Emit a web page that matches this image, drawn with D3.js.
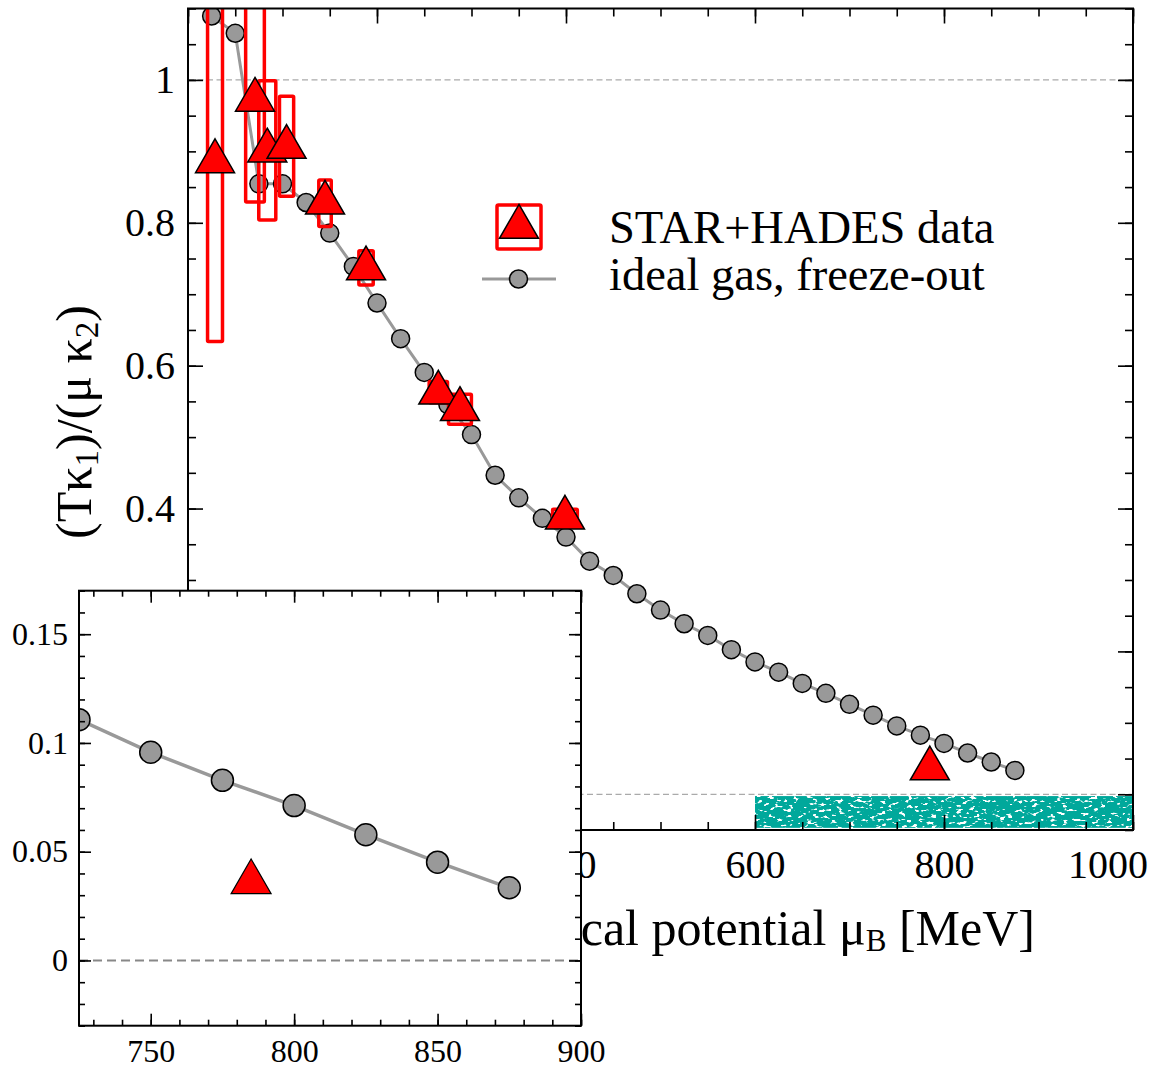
<!DOCTYPE html>
<html><head><meta charset="utf-8">
<script src="https://cdn.jsdelivr.net/npm/d3@7"></script>
<style>
body{margin:0;background:#fff}
svg{display:block}
text{font-family:"Liberation Serif","Times New Roman",serif;fill:#000}
</style>
</head><body>
<svg id="c" width="1150" height="1069"></svg>
<script>
// ---------------- data ----------------
// ideal gas, freeze-out (mu_B in MeV, ratio)
const muIdeal = [25,50,75,100,125,150,175,200,225,250,275,300,325,350,375,400,425,450,475,500,525,550,575,600,625,650,675,700,725,750,775,800,825,850,875];
const ratioIdeal = [1.0895,1.0653,0.8545,0.8545,0.8284,0.7856,0.7389,0.6877,0.6378,0.5906,0.5455,0.5035,0.4466,0.4150,0.3863,0.3601,0.3263,0.3063,0.2807,0.2578,0.2387,0.2224,0.2024,0.1853,0.1710,0.1552,0.1413,0.1259,0.1107,0.0957,0.0828,0.0712,0.0578,0.0452,0.0334];
// STAR+HADES data
const muData = [28.6,70.9,83.9,104.3,145.0,188.4,264.9,287.8,398.9,785.0];
const ratioData = [0.886,0.972,0.901,0.906,0.828,0.736,0.562,0.539,0.387,0.036];
const sysLow  = [0.634,0.829,0.804,0.837,0.795,0.713,0.548,0.518,0.375,null];
const sysHigh = [1.140,1.115,0.999,0.977,0.860,0.761,0.578,0.560,0.399,null];
const sysHalfWidthMu = [7.9,9.9,9.0,7.5,6.6,7.6,9.7,12.1,13.1,0];
// teal region
const bandMu = [600,1005];
const bandRatio = [-0.047,-0.0025];
// axes
const mainXTicks = [0,200,400,600,800,1000];
const mainXTickLabels = ["0","200","400","600","800","1000"];
const mainYTicks = [0,0.2,0.4,0.6,0.8,1];
const mainYTickLabels = ["0","0.2","0.4","0.6","0.8","1"];
const insetXTicks = [750,800,850,900];
const insetXTickLabels = ["750","800","850","900"];
const insetYTicks = [0,0.05,0.1,0.15];
const insetYTickLabels = ["0","0.05","0.1","0.15"];
const refLines = [0,1];
const legendLabels = ["STAR+HADES data","ideal gas, freeze-out"];

// ---------------- drawing ----------------
const svg = d3.select("#c");
const FONT = "Liberation Serif, Times New Roman, serif";
const GRAY = "#999999";
const RED = "#ff0000";

function triPath(s){
  const h1 = s/Math.sqrt(3), h2 = s/(2*Math.sqrt(3));
  return `M0,${-h1}L${s/2},${h2}L${-s/2},${h2}Z`;
}

const X0=188, X1=1133, Y0=8.5, Y1=830;
const x = d3.scaleLinear().domain([0,1000]).range([X0,X1]);
const y = d3.scaleLinear().domain([-0.05,1.1]).range([Y1,Y0]);

const defs = svg.append("defs");
defs.append("clipPath").attr("id","clipMain").append("rect")
  .attr("x",X0).attr("y",Y0).attr("width",X1-X0).attr("height",Y1-Y0);
// sparse speckle texture for the teal region
const f = defs.append("filter").attr("id","speck")
  .attr("x",0).attr("y",0).attr("width","100%").attr("height","100%");
f.append("feTurbulence").attr("type","fractalNoise").attr("baseFrequency","0.16 0.32")
  .attr("numOctaves",2).attr("seed",7).attr("result","n");
f.append("feColorMatrix").attr("in","n").attr("type","matrix")
  .attr("values","0 0 0 0 0  0 0 0 0 0  0 0 0 0 0  0 0 0 -12 8.2").attr("result","m");
f.append("feComposite").attr("in","SourceGraphic").attr("in2","m").attr("operator","in");

const gMain = svg.append("g").attr("clip-path","url(#clipMain)");

// reference dashed lines
gMain.selectAll("line.ref").data(refLines).join("line")
  .attr("x1",X0).attr("x2",X1).attr("y1",d=>y(d)).attr("y2",d=>y(d))
  .attr("stroke","#aaaaaa").attr("stroke-width",1.3).attr("stroke-dasharray","6,3.5");

// teal band
gMain.append("rect")
  .attr("x",x(bandMu[0])).attr("width",x(bandMu[1])-x(bandMu[0]))
  .attr("y",y(bandRatio[1])).attr("height",y(bandRatio[0])-y(bandRatio[1]))
  .attr("fill","#04a89b").attr("filter","url(#speck)");

const idealPts = muIdeal.map((m,i)=>[m,ratioIdeal[i]]);
const dataPts = muData.map((m,i)=>({mu:m,r:ratioData[i],lo:sysLow[i],hi:sysHigh[i],hw:sysHalfWidthMu[i]}));

gMain.append("path").datum(idealPts)
  .attr("d",d3.line().x(d=>x(d[0])).y(d=>y(d[1])))
  .attr("fill","none").attr("stroke",GRAY).attr("stroke-width",3);
gMain.selectAll("circle.ideal").data(idealPts).join("circle")
  .attr("cx",d=>x(d[0])).attr("cy",d=>y(d[1])).attr("r",9)
  .attr("fill",GRAY).attr("stroke","#000").attr("stroke-width",1.5);

gMain.selectAll("rect.sys").data(dataPts.filter(d=>d.lo!==null)).join("rect")
  .attr("x",d=>x(d.mu-d.hw)).attr("width",d=>x(d.mu+d.hw)-x(d.mu-d.hw))
  .attr("y",d=>y(d.hi)).attr("height",d=>y(d.lo)-y(d.hi))
  .attr("fill","none").attr("stroke",RED).attr("stroke-width",3.5).attr("rx",1);

gMain.selectAll("path.tri").data(dataPts).join("path")
  .attr("transform",d=>`translate(${x(d.mu)},${y(d.r)})`)
  .attr("d",triPath(39)).attr("fill",RED).attr("stroke","#000").attr("stroke-width",1.5);

// axes
function styleAxis(g,fs){
  g.select(".domain").remove();
  g.attr("font-size",fs).attr("font-family",FONT);
  g.selectAll("line").attr("stroke","#000").attr("stroke-width",1.6);
  g.selectAll("text").attr("fill","#000");
}
function axes(xs, ys, xT, xL, yT, yL, xMinor, yMinor, L, l, fs, padX, padY){
  const [a0,a1] = xs.range(), [b1,b0] = ys.range();
  const g = svg.append("g");
  g.append("g").attr("transform",`translate(0,${b1})`)
    .call(d3.axisBottom(xs).tickValues(xT).tickFormat((d,i)=>xL[i]).tickSize(-L).tickPadding(padX)).call(s=>styleAxis(s,fs));
  g.append("g").attr("transform",`translate(0,${b1})`)
    .call(d3.axisBottom(xs).tickValues(xMinor).tickFormat("").tickSize(-l)).call(s=>styleAxis(s,fs));
  g.append("g").attr("transform",`translate(0,${b0})`)
    .call(d3.axisTop(xs).tickValues(xT).tickFormat("").tickSize(-L)).call(s=>styleAxis(s,fs));
  g.append("g").attr("transform",`translate(0,${b0})`)
    .call(d3.axisTop(xs).tickValues(xMinor).tickFormat("").tickSize(-l)).call(s=>styleAxis(s,fs));
  g.append("g").attr("transform",`translate(${a0},0)`)
    .call(d3.axisLeft(ys).tickValues(yT).tickFormat((d,i)=>yL[i]).tickSize(-L).tickPadding(padY)).call(s=>styleAxis(s,fs));
  g.append("g").attr("transform",`translate(${a0},0)`)
    .call(d3.axisLeft(ys).tickValues(yMinor).tickFormat("").tickSize(-l)).call(s=>styleAxis(s,fs));
  g.append("g").attr("transform",`translate(${a1},0)`)
    .call(d3.axisRight(ys).tickValues(yT).tickFormat("").tickSize(-L)).call(s=>styleAxis(s,fs));
  g.append("g").attr("transform",`translate(${a1},0)`)
    .call(d3.axisRight(ys).tickValues(yMinor).tickFormat("").tickSize(-l)).call(s=>styleAxis(s,fs));
  g.append("rect").attr("x",a0).attr("y",b0).attr("width",a1-a0).attr("height",b1-b0)
    .attr("fill","none").attr("stroke","#000").attr("stroke-width",2);
  return g;
}
const mainAx = axes(x,y,mainXTicks,mainXTickLabels,mainYTicks,mainYTickLabels,
  d3.range(0,1001,50), d3.range(-0.05,1.101,0.05), 15, 8, 40, 20, 13);
// keep last x label inside the picture
mainAx.selectAll("text").each(function(){
  const b = this.getBoundingClientRect();
  if (b.right > 1148) d3.select(this).attr("dx", 1148 - b.right);
});

// y label
const yl = svg.append("text").attr("transform","translate(91,422) rotate(-90)")
  .attr("text-anchor","middle").attr("font-size",50);
yl.append("tspan").text("(Tκ");
yl.append("tspan").attr("font-size",33).attr("dy",7).text("1");
yl.append("tspan").attr("dy",-7).text(")/(μ κ");
yl.append("tspan").attr("font-size",33).attr("dy",7).text("2");
yl.append("tspan").attr("dy",-7).text(")");

// x label
const xl = svg.append("text").attr("x",1035).attr("y",945).attr("text-anchor","end").attr("font-size",50);
xl.append("tspan").text("baryon chemical potential μ");
xl.append("tspan").attr("font-size",31).attr("dy",6).text("B");
xl.append("tspan").attr("dy",-6).text(" [MeV]");

// legend
const lg = svg.append("g");
lg.append("rect").attr("x",519-22).attr("y",227-22).attr("width",44).attr("height",44)
  .attr("fill","none").attr("stroke",RED).attr("stroke-width",3.5).attr("rx",1.5);
lg.append("path").attr("transform","translate(519,227)").attr("d",triPath(39))
  .attr("fill",RED).attr("stroke","#000").attr("stroke-width",1.5);
lg.append("line").attr("x1",482).attr("x2",556).attr("y1",279).attr("y2",279)
  .attr("stroke",GRAY).attr("stroke-width",3);
lg.append("circle").attr("cx",518.5).attr("cy",279).attr("r",9)
  .attr("fill",GRAY).attr("stroke","#000").attr("stroke-width",1.5);
lg.selectAll("text").data(legendLabels).join("text")
  .attr("x",609).attr("y",(d,i)=>i===0?243:290).attr("font-size",46.5).text(d=>d);

// ---------------- inset ----------------
const IX0=79, IX1=581, IY0=590.7, IY1=1025.7;
svg.append("rect").attr("x",0).attr("y",IY0).attr("width",IX1).attr("height",1069-IY0).attr("fill","#fff");
const xi = d3.scaleLinear().domain([725,900]).range([IX0,IX1]);
const yi = d3.scaleLinear().domain([-0.03,0.17]).range([IY1,IY0]);
defs.append("clipPath").attr("id","clipIn").append("rect")
  .attr("x",IX0).attr("y",IY0).attr("width",IX1-IX0).attr("height",IY1-IY0);
const gIn = svg.append("g").attr("clip-path","url(#clipIn)");
gIn.append("line").attr("x1",IX0).attr("x2",IX1).attr("y1",yi(0)).attr("y2",yi(0))
  .attr("stroke","#888").attr("stroke-width",2).attr("stroke-dasharray","9,5");
gIn.append("path").datum(idealPts)
  .attr("d",d3.line().x(d=>xi(d[0])).y(d=>yi(d[1])))
  .attr("fill","none").attr("stroke",GRAY).attr("stroke-width",3.5);
gIn.selectAll("circle").data(idealPts.filter(d=>d[0]>=700)).join("circle")
  .attr("cx",d=>xi(d[0])).attr("cy",d=>yi(d[1])).attr("r",11)
  .attr("fill",GRAY).attr("stroke","#000").attr("stroke-width",1.5);
gIn.selectAll("path.tri").data(dataPts.filter(d=>d.mu>=700)).join("path")
  .attr("transform",d=>`translate(${xi(d.mu)},${yi(d.r)})`)
  .attr("d",triPath(40)).attr("fill",RED).attr("stroke","#000").attr("stroke-width",1.2);
axes(xi,yi,insetXTicks,insetXTickLabels,insetYTicks,insetYTickLabels,
  d3.range(730,901,10), d3.range(-0.03,0.1701,0.01), 12, 6, 32, 14, 11);
</script>
</body></html>
